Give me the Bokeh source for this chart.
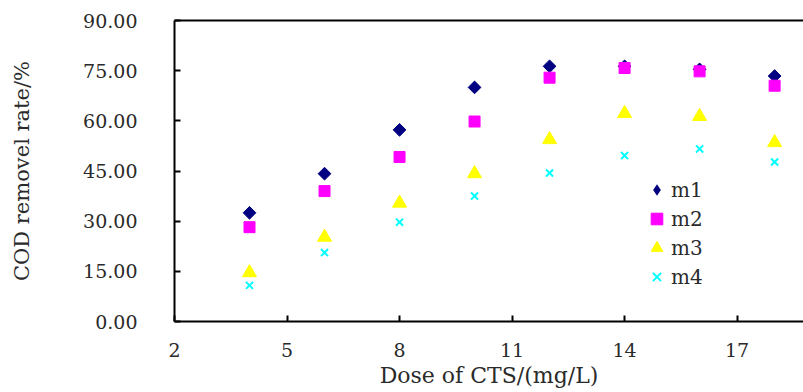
from bokeh.plotting import figure
from bokeh.models import (Range1d, LinearAxis, FixedTicker, Legend, LegendItem,
                          CustomJSTickFormatter)
from bokeh.embed import file_html
from bokeh.resources import INLINE

dose = [4, 6, 8, 10, 12, 14, 16, 18]
m1 = [32.5, 44.2, 57.3, 70.0, 76.3, 76.3, 75.4, 73.4]
m2 = [28.2, 39.0, 49.2, 59.8, 72.9, 75.8, 74.8, 70.5]
m3 = [14.6, 25.2, 35.4, 44.2, 54.4, 62.2, 61.3, 53.5]
m4 = [10.8, 20.6, 29.7, 37.5, 44.4, 49.6, 51.6, 47.7]
x_ticks = [2, 5, 8, 11, 14, 17]
y_ticks = [0, 15, 30, 45, 60, 75, 90]

FONT = "DejaVu Serif"
TXT = "#2a2a2a"

p = figure(width=803, height=392, output_backend="svg", toolbar_location=None,
           x_range=Range1d(2, 18.77), y_range=Range1d(0, 90),
           min_border_left=174, min_border_right=0, min_border_top=20, min_border_bottom=71)
p.outline_line_color = None
p.xgrid.grid_line_color = None
p.ygrid.grid_line_color = None
p.background_fill_color = "white"
p.border_fill_color = "white"

ax = p.xaxis[0]
ax.ticker = FixedTicker(ticks=x_ticks)
ax.axis_line_width = 2
ax.axis_line_color = "black"
ax.major_tick_in = 6
ax.major_tick_out = 0
ax.major_tick_line_width = 2
ax.minor_tick_line_color = None
ax.major_label_text_font = FONT
ax.major_label_text_font_size = "19px"
ax.major_label_text_color = TXT
ax.major_label_standoff = 21
ax.axis_label = "Dose of CTS/(mg/L)"
ax.axis_label_text_font = FONT
ax.axis_label_text_font_size = "22px"
ax.axis_label_text_font_style = "normal"
ax.axis_label_text_color = TXT
ax.axis_label_standoff = 3

ay = p.yaxis[0]
ay.ticker = FixedTicker(ticks=y_ticks)
ay.formatter = CustomJSTickFormatter(code="return tick.toFixed(2);")
ay.axis_line_width = 2
ay.axis_line_color = "black"
ay.major_tick_in = 6
ay.major_tick_out = 0
ay.major_tick_line_width = 2
ay.minor_tick_line_color = None
ay.major_label_text_font = FONT
ay.major_label_text_font_size = "19px"
ay.major_label_text_color = TXT
ay.major_label_standoff = 37
ay.axis_label = "COD removel rate/%"
ay.axis_label_text_font = FONT
ay.axis_label_text_font_size = "21px"
ay.axis_label_text_font_style = "normal"
ay.axis_label_text_color = TXT
ay.axis_label_standoff = 46

top = LinearAxis(ticker=FixedTicker(ticks=[]), axis_line_width=2, axis_line_color="black",
                 major_label_text_font_size="0px", major_tick_line_color=None,
                 minor_tick_line_color=None)
p.add_layout(top, "above")

r1 = p.scatter(dose, m1, marker="square", angle=0.785398, size=9,
               fill_color="#000080", line_color="#000080")
r2 = p.scatter(dose, m2, marker="square", size=11, fill_color="#FF00FF", line_color="#FF00FF")
r3 = p.scatter(dose, m3, marker="triangle", size=14, fill_color="#FFFF00", line_color="#FFFF00")
r4 = p.scatter(dose, m4, marker="x", size=10, line_color="#00FFFF", line_width=2)
# legend key for m1: zero-size on the plot; legend glyphs get their own size and are unrotated
r1_key = p.scatter(dose, m1, marker="diamond", size=0, fill_color="#000080", line_color=None)

legend = Legend(items=[LegendItem(label="m1", renderers=[r1_key]),
                       LegendItem(label="m2", renderers=[r2]),
                       LegendItem(label="m3", renderers=[r3]),
                       LegendItem(label="m4", renderers=[r4])],
                location=(468, 30), border_line_color=None, background_fill_alpha=0,
                label_text_font=FONT, label_text_font_size="20px", label_text_color=TXT,
                glyph_width=29, glyph_height=29, label_height=29, spacing=0,
                label_standoff=0, padding=0, margin=0)
p.add_layout(legend, "center")

open("out.html", "w").write(file_html(p, INLINE))
